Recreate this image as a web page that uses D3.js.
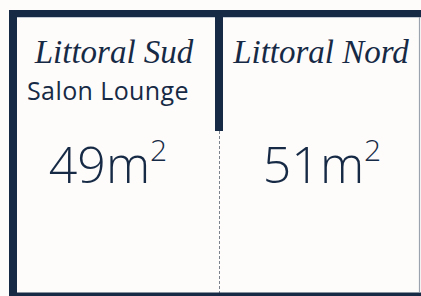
<!DOCTYPE html>
<html>
<head>
<meta charset="utf-8">
<script src="https://cdn.jsdelivr.net/npm/d3@7"></script>
<style>
  body { margin: 0; background: #fdfcfb; }
  svg { display: block; }
</style>
</head>
<body>
<div id="chart"></div>
<script>
// rooms of the plan, left to right
const rooms = ['Littoral Sud', 'Littoral Nord'];
const subtitles = ['Salon Lounge', ''];
const areas = [49, 51];
const unit = 'm';

let svgWidth = 421, svgHeight = 296,
  wallColor = '#172a45',
  wallWidth = 8,
  topWallY = 13.5,
  bottomWallY = 294.5,
  midWallEnd = 131;

const svg = d3.select('#chart')
  .append('svg')
  .attr('width', svgWidth)
  .attr('height', svgHeight);

svg.append('rect')
  .attr('width', svgWidth)
  .attr('height', svgHeight)
  .attr('fill', '#fdfcfb');

// each room is one band, walls sit on band edges
const x = d3.scaleBand()
  .domain(rooms)
  .range([13, 425])
  .paddingInner(0)
  .paddingOuter(0);

const y = d3.scaleLinear().domain([0, 1]).range([topWallY, bottomWallY]);

// thin inner edge of the walls
svg.append('line')
  .attr('x1', 17).attr('x2', svgWidth)
  .attr('y1', 17.5).attr('y2', 17.5)
  .attr('stroke', '#c3cad4').attr('stroke-width', 1);

svg.append('line')
  .attr('x1', 419.5).attr('x2', 419.5)
  .attr('y1', 17).attr('y2', 292)
  .attr('stroke', '#9ba3ae').attr('stroke-width', 1.2);

// dashed partition between the rooms
svg.append('line')
  .attr('x1', x(rooms[1]) + 0.5).attr('x2', x(rooms[1]) + 0.5)
  .attr('y1', midWallEnd).attr('y2', y(1))
  .attr('stroke', '#7d838c')
  .attr('stroke-width', 1)
  .attr('stroke-dasharray', '3,2');

// top and bottom walls
svg.selectAll('.hwall')
  .data([0, 1])
  .enter()
  .append('line')
  .attr('x1', x(rooms[0]) - wallWidth / 2)
  .attr('x2', svgWidth)
  .attr('y1', d => y(d))
  .attr('y2', d => y(d))
  .attr('stroke', wallColor)
  .attr('stroke-width', d => d === 0 ? 7 : 4);

// left wall
svg.append('line')
  .attr('x1', x(rooms[0])).attr('x2', x(rooms[0]))
  .attr('y1', y(0)).attr('y2', svgHeight)
  .attr('stroke', wallColor)
  .attr('stroke-width', wallWidth);

// middle wall stub
svg.append('line')
  .attr('x1', x(rooms[1])).attr('x2', x(rooms[1]))
  .attr('y1', y(0)).attr('y2', midWallEnd)
  .attr('stroke', wallColor)
  .attr('stroke-width', wallWidth);

// room names (no script font available, italic serif instead)
svg.selectAll('.room-name')
  .data(rooms)
  .enter()
  .append('text')
  .attr('class', 'room-name')
  .attr('x', (d, i) => x(d) + x.bandwidth() / 2 - (i === 0 ? 2 : 1))
  .attr('y', 63)
  .attr('text-anchor', 'middle')
  .attr('font-family', '"Liberation Serif", serif')
  .attr('font-style', 'italic')
  .attr('font-size', 33)
  .attr('fill', wallColor)
  .text(d => d);

// subtitles
svg.selectAll('.room-sub')
  .data(subtitles)
  .enter()
  .append('text')
  .attr('class', 'room-sub')
  .attr('x', (d, i) => x(rooms[i]) + x.bandwidth() / 2 - 8)
  .attr('y', 100)
  .attr('text-anchor', 'middle')
  .attr('font-family', '"Open Sans", sans-serif')
  .attr('font-size', 25)
  .attr('letter-spacing', 0.4)
  .attr('fill', wallColor)
  .text(d => d);

// surface areas
const areaText = svg.selectAll('.room-area')
  .data(areas)
  .enter()
  .append('text')
  .attr('class', 'room-area')
  .attr('x', (d, i) => x(rooms[i]) + x.bandwidth() / 2 - (i === 0 ? 8 : 0))
  .attr('y', 183)
  .attr('text-anchor', 'middle')
  .attr('font-family', '"Open Sans", sans-serif')
  .attr('font-weight', 300)
  .attr('font-size', 50)
  .attr('fill', wallColor);

areaText.append('tspan').text(d => `${d}${unit}`);
areaText.append('tspan')
  .attr('dy', -22)
  .attr('font-size', 30)
  .text('2');
</script>
</body>
</html>
